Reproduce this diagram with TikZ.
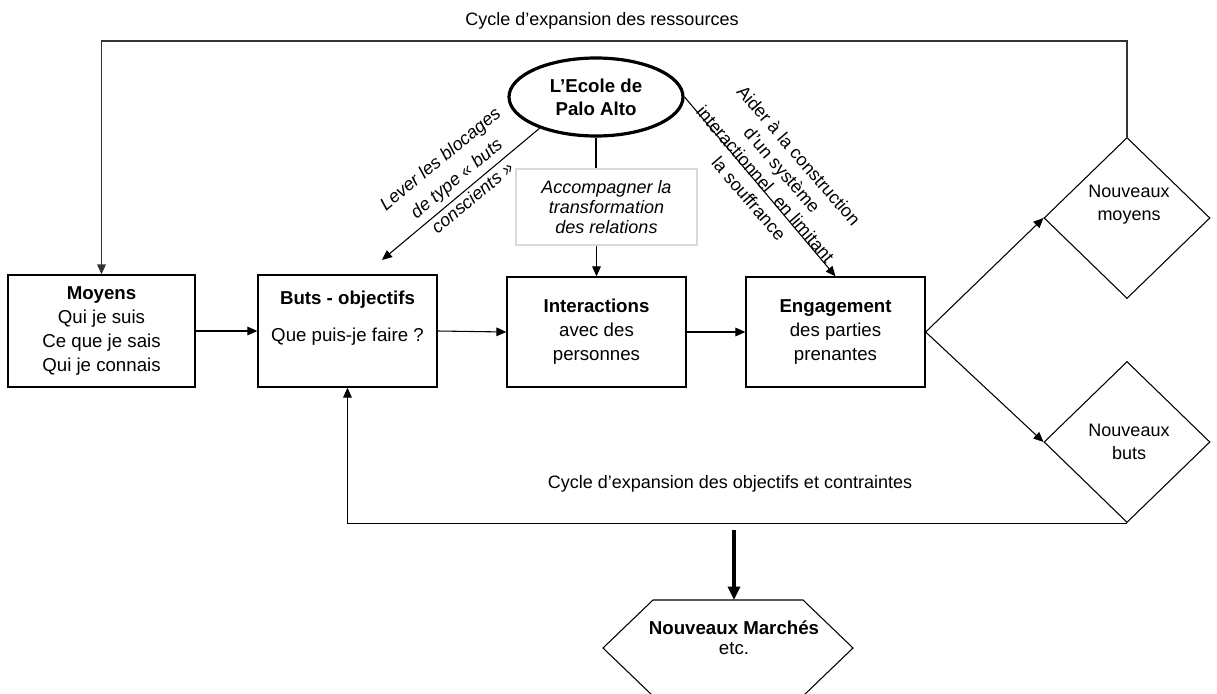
\documentclass[tikz,border=0pt]{standalone}
\usepackage{fontspec}
\setmainfont{Liberation Sans}
\usetikzlibrary{arrows.meta,shapes.geometric}
\begin{document}
\begin{tikzpicture}[x=0.75pt,y=-0.75pt,
  every node/.style={font=\fontsize{14}{18}\selectfont},
  box/.style={draw,line width=1pt,inner sep=0pt,align=center},
  arr/.style={line width=0.8pt,-{Triangle[length=7.5pt,width=6.5pt]}},
  ln/.style={line width=0.8pt},
  cyc/.style={line width=1pt,black!80,-{Triangle[length=7.5pt,width=6.5pt]}},
  diam/.style={draw,diamond,line width=0.8pt,minimum width=166*0.75pt,minimum height=161*0.75pt,inner sep=0pt},
  lbl/.style={font=\fontsize{13.5}{16}\selectfont}]
\useasboundingbox (0,0) rectangle (1217,693);

% boxes
\node[box,minimum width=187*0.75pt,minimum height=112*0.75pt] (moy) at (101.5,331)
  {\textbf{Moyens}\\Qui je suis\\Ce que je sais\\Qui je connais};
\node[box,minimum width=179*0.75pt,minimum height=112*0.75pt] (buts) at (347.5,331) {};
\node (butsT) at (347.5,300) {\textbf{Buts - objectifs}};
\node (butsQ) at (347.5,337) {Que puis-je faire ?};
\node[box,minimum width=179*0.75pt,minimum height=110*0.75pt] (inter) at (596.5,332)
  {\textbf{Interactions}\\avec des\\personnes};
\node[box,minimum width=179*0.75pt,minimum height=110*0.75pt] (eng) at (835.5,332)
  {\textbf{Engagement}\\des parties\\prenantes};

% ellipse
\node[draw,ellipse,line width=2.4pt,minimum width=174*0.75pt,minimum height=78*0.75pt,
  inner sep=0pt,align=center,font=\bfseries\fontsize{14}{17}\selectfont] (ell) at (596,97)
  {L’Ecole de\\Palo Alto};

% accompagner box
\node[draw=black!15,line width=0.8pt,minimum width=181*0.75pt,minimum height=76*0.75pt,
  inner sep=0pt,align=center,font=\itshape\fontsize{13.5}{15}\selectfont] (acc) at (606.5,207)
  {Accompagner la\\transformation\\des relations};

% diamonds
\node[diam] (d1) at (1127,218) {};
\node[align=center,lbl,font=\fontsize{13.5}{17}\selectfont] (d1t) at (1129,205) {Nouveaux\\moyens};
\node[diam] (d2) at (1127,442) {};
\node[align=center,font=\fontsize{13.5}{17}\selectfont] (d2t) at (1129,442) {Nouveaux\\buts};

% hexagon
\draw[line width=0.8pt] (653,600) -- (803,600) -- (853,648) -- (803,696) -- (653,696) -- (603,648) -- cycle;
\node[align=center,font=\fontsize{14}{15}\selectfont] (mkt) at (734,638) {\textbf{Nouveaux Marchés}\\etc.};
\coordinate (mktop) at (734,600);
\coordinate (thk) at (734,530);
\draw[line width=2.4pt,-{Triangle[length=10pt,width=9pt]}] (thk) -- (mktop);

% main flow
\draw[arr] (moy.east) -- (buts.west);
\draw[arr] (buts.east) -- (inter.west);
\draw[arr] (inter.east) -- (eng.west);
\draw[arr] (eng.east) -- (d1.west);
\draw[arr] (eng.east) -- (d2.west);

% cycles
\coordinate (topy) at (0,41);
\draw[cyc] (d1.north) -- (d1.north |- topy) -| (moy.north);
\draw[arr] (d2.south) -| (buts.south);

% Palo Alto connectors
\draw[ln] (ell.south) -- (ell.south |- acc.north);
\draw[arr] (inter.north |- acc.south) -- (inter.north);
\coordinate (lv) at (382,260);
\draw[arr] (ell.209.5) -- (lv);
\draw[arr] (ell.east) -- (eng.north);

% labels
\node[rotate=39.6,align=center,font=\itshape\fontsize{13.5}{19}\selectfont] (lab1) at (456,178)
  {Lever les blocages\\de type « buts\\conscients »};
\node[rotate=-49.2,align=center,font=\fontsize{13.5}{16.5}\selectfont] (lab2) at (774,177)
  {Aider à la construction\\d’un système\\interactionnel\hspace{0.6em}en limitant\\la souffrance};
\node[lbl] (cyc1) at (602,21) {Cycle d’expansion des ressources};
\node[lbl] (cyc2) at (730,484) {Cycle d’expansion des objectifs et contraintes};
\end{tikzpicture}
\end{document}
